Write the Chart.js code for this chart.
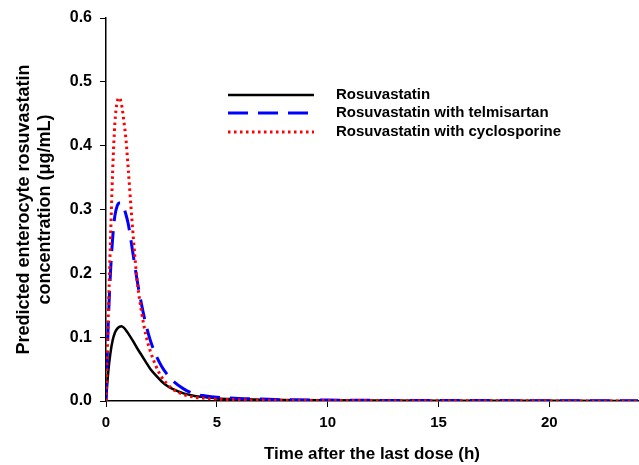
<!DOCTYPE html>
<html>
<head>
<meta charset="utf-8">
<script src="https://cdn.jsdelivr.net/npm/chart.js@4.4.1/dist/chart.umd.min.js"></script>
<style>
  html, body { margin: 0; padding: 0; background: #fff; }
  #wrap { width: 639px; height: 465px; }
</style>
</head>
<body>
<div id="wrap"><canvas id="chart"></canvas></div>
<script>
// time points (h)
const times = [0, 0.1, 0.2, 0.3, 0.4, 0.5, 0.6, 0.7, 0.8, 0.9, 1.0, 1.2, 1.4, 1.6, 1.8, 2.0, 2.25, 2.5, 2.75, 3, 3.5, 4, 4.5, 5, 6, 7, 8, 10, 12, 15, 20, 24];

const rosu = [0, 0.045, 0.075, 0.095, 0.107, 0.113, 0.116, 0.117, 0.115, 0.111, 0.106, 0.095, 0.083, 0.072, 0.061, 0.050, 0.040, 0.031, 0.024, 0.019, 0.012, 0.008, 0.006, 0.004, 0.003, 0.002, 0.0015, 0.001, 0.0007, 0.0004, 0.0002, 0.0001];
const rosuTelmi = [0, 0.12, 0.2, 0.255, 0.29, 0.305, 0.31, 0.31, 0.303, 0.292, 0.278, 0.235, 0.19, 0.152, 0.12, 0.095, 0.072, 0.055, 0.042, 0.032, 0.019, 0.011, 0.008, 0.006, 0.004, 0.003, 0.002, 0.0015, 0.001, 0.0008, 0.0005, 0.0003];
const rosuCyclo = [0, 0.13, 0.25, 0.36, 0.435, 0.468, 0.475, 0.465, 0.44, 0.41, 0.365, 0.27, 0.19, 0.14, 0.103, 0.078, 0.055, 0.038, 0.027, 0.019, 0.01, 0.006, 0.004, 0.003, 0.002, 0.0015, 0.001, 0.0008, 0.0006, 0.0004, 0.0002, 0.0001];

const seriesNames = ['Rosuvastatin', 'Rosuvastatin with telmisartan', 'Rosuvastatin with cyclosporine'];
const xTicks = [0, 5, 10, 15, 20];
const yTicks = [0, 0.1, 0.2, 0.3, 0.4, 0.5, 0.6];

const FONT = 'Arial, "Liberation Sans", sans-serif';

function pts(vals) {
    return times.map((t, i) => ({ x: t, y: vals[i] }));
}

// legend drawn inside the plot, like the original figure
const innerLegend = {
    id: 'innerLegend',
    afterDraw(chart) {
        const ctx = chart.ctx;
        const rows = [95, 113, 132];
        ctx.save();
        chart.data.datasets.forEach((ds, i) => {
            const y = rows[i];
            ctx.strokeStyle = ds.borderColor;
            ctx.lineWidth   = ds.borderWidth;
            ctx.setLineDash(ds.borderDash || []);
            ctx.beginPath();
            ctx.moveTo(228, y);
            ctx.lineTo(314, y);
            ctx.stroke();
            ctx.setLineDash([]);
            ctx.fillStyle    = '#000';
            ctx.font         = 'bold 15px ' + FONT;
            ctx.textBaseline = 'middle';
            ctx.textAlign    = 'left';
            ctx.fillText(ds.label, 336, y);
        });
        ctx.restore();
    }
};

new Chart(document.getElementById('chart'), {
    type: 'line',
    data: {
        datasets: [
            {
                label: seriesNames[0],
                data: pts(rosu),
                borderColor: '#000000',
                borderWidth: 2.5,
                order: 2,
            },
            {
                label: seriesNames[1],
                data: pts(rosuTelmi),
                borderColor: '#0000ff',
                borderWidth: 3,
                borderDash: [20, 10],
                order: 1,
            },
            {
                label: seriesNames[2],
                data: pts(rosuCyclo),
                borderColor: '#ff0000',
                borderWidth: 3,
                borderDash: [2.5, 3.5],
                order: 0,
            }
        ]
    },
    options: {
        responsive: true,
        maintainAspectRatio: false,
        animation: false,
        layout: { padding: { left: 13, right: 1, top: 18, bottom: 0 } },
        elements: {
            point: { radius: 0 },
            line: { cubicInterpolationMode: 'monotone', fill: false }
        },
        plugins: { legend: { display: false }, tooltip: { enabled: false } },
        scales: {
            x: {
                type: 'linear',
                min: 0,
                max: 24,
                afterBuildTicks: s => { s.ticks = xTicks.map(v => ({ value: v })); },
                afterFit: s => { s.height = 64; },
                grid: { display: true, drawOnChartArea: false, drawTicks: true, tickLength: 6, color: '#000', tickWidth: 1 },
                border: { display: true, color: '#000', width: 1.5 },
                ticks: { color: '#000', font: { family: FONT, size: 15, weight: 'bold' }, padding: 7, maxRotation: 0 },
                title: {
                    display: true,
                    text: 'Time after the last dose (h)',
                    color: '#000',
                    font: { family: FONT, size: 17, weight: 'bold' },
                    padding: { top: 4, bottom: 0 }
                }
            },
            y: {
                min: 0,
                max: 0.6,
                afterBuildTicks: s => { s.ticks = yTicks.map(v => ({ value: v })); },
                afterFit: s => { s.width = 93; },
                grid: { display: true, drawOnChartArea: false, drawTicks: true, tickLength: 6, color: '#000', tickWidth: 1 },
                border: { display: true, color: '#000', width: 1.5 },
                ticks: {
                    color: '#000',
                    font: { family: FONT, size: 16, weight: 'bold' },
                    padding: 8,
                    callback: v => v.toFixed(1)
                },
                title: {
                    display: true,
                    text: ['Predicted enterocyte rosuvastatin', 'concentration (\u03bcg/mL)'],
                    color: '#000',
                    font: { family: FONT, size: 18, weight: 'bold', lineHeight: 1.2 },
                    padding: { top: 0, bottom: 0 }
                }
            }
        }
    },
    plugins: [innerLegend]
});
</script>
</body>
</html>
